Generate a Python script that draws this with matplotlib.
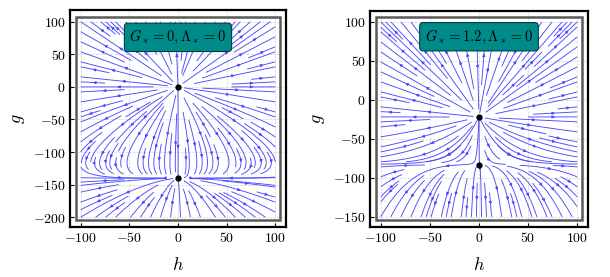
import numpy as np
import matplotlib
matplotlib.use("Agg")
import matplotlib.pyplot as plt
from matplotlib.patches import Rectangle

plt.rcParams['mathtext.fontset'] = 'cm'
plt.rcParams['font.family'] = 'DejaVu Serif'

# panel data: fixed points on the g axis, flow exponents, ranges, labels
titles = [r"$G_* = 0, \Lambda_* = 0$", r"$G_* = 1.2, \Lambda_* = 0$"]
fixed_g = [[0.0, -140.0], [-22.0, -83.0]]
exp_mid = [0.2, -0.3]      # exponent of (g - g2) between the fixed points
exp_low = [0.65, 0.3]      # exponent of (g2 - g) below the second fixed point
h_range = [-100, 100]
g_ranges = [[-200, 100], [-150, 100]]
x_ticks = [-100, -50, 0, 50, 100]
y_ticks = [[100, 50, 0, -50, -100, -150, -200], [100, 50, 0, -50, -100, -150]]
box_g = [76, 81]

# axes limits / inner frame (plot range plus padding)
outer_x = [-111, 111]
outer_y = [[-215, 118], [-163, 114]]
inner_y = [[-205, 108], [-154, 106]]
axes_pos = [[70, 10, 216, 217], [370, 11, 218, 216]]

W, H = 610, 277
fig = plt.figure(figsize=(W / 100, H / 100), dpi=100)


def field(hh, gg, g1, g2, q, p):
    L = g1 - g2
    u = np.zeros_like(hh)
    v = np.zeros_like(gg)
    top = gg >= g1
    mid = (gg < g1) & (gg > g2)
    low = gg <= g2
    # above the UV point: radial
    u[top] = hh[top]
    v[top] = gg[top] - g1
    # between the fixed points: h = C*(g1-g)*((g-g2)/L)^q
    s = (gg[mid] - g2) / L
    phi = (g1 - gg[mid]) * s ** q
    dphi = -s ** q + (g1 - gg[mid]) * q * s ** (q - 1) / L
    u[mid] = -hh[mid] * dphi
    v[mid] = -phi
    # below the second point: h = C*((g2-g)/L)^p
    t = (g2 - gg[low]) / L
    phi = t ** p
    dphi = -p * t ** (p - 1) / L
    u[low] = -hh[low] * dphi
    v[low] = -phi
    sp = np.hypot(u, v) + 1e-12
    return u / sp, v / sp


for i in range(2):
    x0, y0, w, h = axes_pos[i]
    ax = fig.add_axes([x0 / W, 1 - (y0 + h) / H, w / W, h / H])
    ax.set_xlim(outer_x)
    ax.set_ylim(outer_y[i])

    hs = np.linspace(h_range[0], h_range[1], 241)
    gs = np.linspace(g_ranges[i][0], g_ranges[i][1], 361) + 0.013
    hh, gg = np.meshgrid(hs, gs)
    g1, g2 = fixed_g[i]
    U, V = field(hh, gg, g1, g2, exp_mid[i], exp_low[i])
    kw = dict(color='#4a4aff', linewidth=0.65, arrowsize=0.4)
    try:
        ax.streamplot(hs, gs, U, V, density=1.35, num_arrows=3, **kw)
    except TypeError:
        ax.streamplot(hs, gs, U, V, density=1.35, **kw)
    # separatrix along the second fixed point
    seeds = np.array([[h_range[0] + 1, g2 + 0.6], [h_range[1] - 1, g2 + 0.6]])
    ax.streamplot(hs, gs, U, V, start_points=seeds, broken_streamlines=False,
                  density=1.35, **kw)

    ax.plot([0, 0], fixed_g[i], 'o', color='black', ms=3.5, zorder=5)

    ax.add_patch(Rectangle((-105, inner_y[i][0]), 210, inner_y[i][1] - inner_y[i][0],
                           fill=False, ec='#5a5a5a', lw=1.8, zorder=6))

    ax.set_xticks(x_ticks)
    ax.set_xticklabels([f"${v}$" for v in x_ticks], fontsize=10)
    ax.set_yticks(y_ticks[i])
    ax.set_yticklabels([f"${v}$" for v in y_ticks[i]], fontsize=10)
    ax.tick_params(direction='in', length=3, width=0.8, pad=3)
    ax.grid(True, ls='--', color='#d4d4d4', lw=0.5)
    for sp in ax.spines.values():
        sp.set_linewidth(1.6)
    ax.set_xlabel(r"$h$", fontsize=13, labelpad=8)
    ax.set_ylabel(r"$g$", fontsize=13, labelpad=4)

    ax.text(0, box_g[i], titles[i], fontsize=10.5, ha='center', va='center', zorder=7,
            bbox=dict(boxstyle='round,pad=0.35,rounding_size=0.25', fc='#008b8b',
                      ec='#003c3c', lw=0.8))

fig.savefig("out.png", dpi=100)
